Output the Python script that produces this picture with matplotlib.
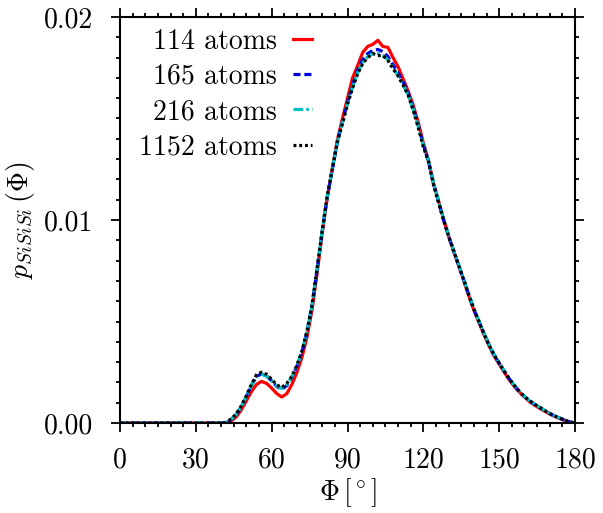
import matplotlib
matplotlib.use("Agg")
import matplotlib.pyplot as plt
import numpy as np
from matplotlib.ticker import MultipleLocator, FixedLocator

plt.rcParams["font.family"] = "serif"
plt.rcParams["font.serif"] = ["cmr10"]
plt.rcParams["mathtext.fontset"] = "cm"
plt.rcParams["axes.unicode_minus"] = False
plt.rcParams["axes.formatter.use_mathtext"] = True

# bond angle in degrees, 2 degree bins
phi = np.arange(0, 181, 2)

zeros = [0.0] * 21  # 0 .. 40 degrees

# p(Phi) in units of 1e-3
p_114 = zeros + [
    0.00, 0.10, 0.30, 0.65, 1.10, 1.55, 1.90, 2.05, 1.95, 1.72,
    1.45, 1.28, 1.45, 1.90, 2.50, 3.25, 4.25, 5.60, 7.40, 9.35,
    11.10, 12.55, 13.95, 15.00, 16.00, 17.00, 17.60, 18.25, 18.55, 18.65,
    18.85, 18.55, 18.50, 18.00, 17.55, 16.95, 16.35, 15.65, 14.80, 13.80,
    12.95, 11.80, 10.95, 10.05, 9.20, 8.45, 7.75, 7.00, 6.25, 5.55,
    4.95, 4.35, 3.80, 3.30, 2.90, 2.50, 2.12, 1.80, 1.52, 1.28,
    1.05, 0.88, 0.72, 0.58, 0.44, 0.32, 0.22, 0.12, 0.04, 0.00,
]
p_165 = zeros + [
    0.02, 0.18, 0.42, 0.80, 1.30, 1.85, 2.30, 2.42, 2.32, 2.08,
    1.80, 1.65, 1.85, 2.25, 2.80, 3.50, 4.50, 5.80, 7.60, 9.45,
    11.15, 12.50, 13.85, 14.85, 15.80, 16.65, 17.40, 17.90, 18.20, 18.35,
    18.40, 18.30, 18.05, 17.65, 17.25, 16.80, 16.25, 15.50, 14.65, 13.70,
    12.90, 11.80, 10.90, 10.00, 9.20, 8.45, 7.75, 7.05, 6.30, 5.60,
    5.00, 4.40, 3.85, 3.35, 2.95, 2.55, 2.18, 1.85, 1.55, 1.30,
    1.10, 0.92, 0.77, 0.61, 0.47, 0.35, 0.24, 0.14, 0.05, 0.00,
]
p_216 = zeros + [
    0.02, 0.18, 0.43, 0.82, 1.32, 1.86, 2.30, 2.40, 2.30, 2.08,
    1.82, 1.70, 1.90, 2.28, 2.82, 3.52, 4.52, 5.82, 7.62, 9.48,
    11.18, 12.50, 13.85, 14.80, 15.72, 16.55, 17.25, 17.75, 18.05, 18.20,
    18.20, 18.10, 17.90, 17.50, 17.10, 16.65, 16.15, 15.45, 14.60, 13.70,
    12.95, 11.85, 10.95, 10.05, 9.25, 8.50, 7.80, 7.05, 6.35, 5.65,
    5.02, 4.42, 3.88, 3.38, 2.97, 2.57, 2.20, 1.86, 1.56, 1.31,
    1.10, 0.93, 0.78, 0.62, 0.48, 0.35, 0.24, 0.14, 0.05, 0.00,
]
p_1152 = zeros + [
    0.03, 0.20, 0.45, 0.85, 1.35, 1.90, 2.38, 2.50, 2.40, 2.15,
    1.88, 1.75, 1.95, 2.30, 2.85, 3.55, 4.55, 5.85, 7.65, 9.50,
    11.20, 12.50, 13.85, 14.75, 15.70, 16.50, 17.20, 17.70, 18.00, 18.20,
    18.10, 18.10, 17.85, 17.45, 17.10, 16.65, 16.15, 15.40, 14.55, 13.60,
    12.90, 11.75, 10.85, 10.00, 9.20, 8.50, 7.75, 7.05, 6.30, 5.60,
    5.00, 4.40, 3.85, 3.35, 2.95, 2.55, 2.18, 1.85, 1.55, 1.30,
    1.10, 0.93, 0.78, 0.62, 0.47, 0.35, 0.24, 0.14, 0.05, 0.00,
]

labels = ["114 atoms", "165 atoms", "216 atoms", "1152 atoms"]
x_ticks = [0, 30, 60, 90, 120, 150, 180]
y_ticks = [0.0, 0.01, 0.02]
y_tick_labels = ["0.00", "0.01", "0.02"]

fig = plt.figure(figsize=(6.03, 5.13), dpi=100)
ax = fig.add_axes([0.199, 0.1754, 0.7546, 0.7915])

series = [p_114, p_165, p_216, p_1152]
colors = ["#ff0000", "#0000e0", "#00c0c0", "#000000"]
dashes = [None, (2.2, 1.2), (3.0, 1.0, 0.8, 1.0), (0.9, 0.9)]
for vals, lab, col, ds in zip(series, labels, colors, dashes):
    kw = {}
    if ds is not None:
        kw["dashes"] = ds
    ax.plot(phi, np.array(vals) * 1e-3, color=col, lw=2.3, label=lab, **kw)

ax.set_xlim(0, 180)
ax.set_ylim(0, 0.02)
ax.xaxis.set_major_locator(FixedLocator(x_ticks))
ax.xaxis.set_minor_locator(MultipleLocator(5))
ax.yaxis.set_major_locator(FixedLocator(y_ticks))
ax.yaxis.set_minor_locator(MultipleLocator(0.001))
ax.set_xticklabels([str(t) for t in x_ticks])
ax.set_yticklabels(y_tick_labels)

for s in ax.spines.values():
    s.set_linewidth(1.5)
ax.tick_params(which="both", direction="out", top=True, right=True,
               width=1.3, labelsize=20)
ax.tick_params(which="major", length=6.5)
ax.tick_params(which="minor", length=3.2)
ax.tick_params(axis="y", which="major", pad=13)
ax.tick_params(axis="x", which="major", pad=11)

ax.set_xlabel(r"$\Phi\,[^\circ]$", fontsize=20, labelpad=2)
ax.set_ylabel(r"$p_{SiSiSi}\,(\Phi)$", fontsize=20, labelpad=5)

ax.legend(loc="upper right", bbox_to_anchor=(0.422, 0.972), frameon=False,
          markerfirst=False, fontsize=20, handlelength=0.7,
          handletextpad=0.55, labelspacing=0.32, borderpad=0,
          borderaxespad=0)

fig.savefig("out.png", dpi=100)
